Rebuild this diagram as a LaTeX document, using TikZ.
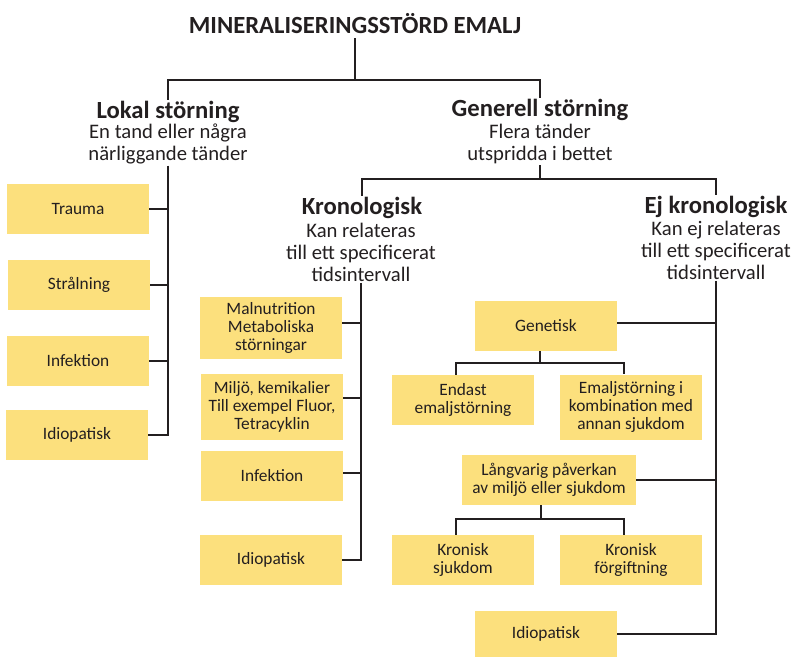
\documentclass[tikz,border=0pt]{standalone}
\usepackage{fontspec}
\setmainfont{Carlito}
\usepackage{xcolor}
\usetikzlibrary{calc}
\definecolor{boxyellow}{RGB}{252,224,125}
\definecolor{inkdark}{RGB}{35,31,32}

\begin{document}
\begin{tikzpicture}[x=0.75pt,y=-0.75pt,
		cause/.style={fill=boxyellow,text=inkdark,font=\fontsize{13}{13.5}\selectfont,
			align=center,minimum width=106.5pt,minimum height=37.5pt,inner sep=1pt},
		head/.style={text=inkdark,font=\bfseries\fontsize{18.5}{20}\selectfont,inner sep=1pt},
		note/.style={text=inkdark,font=\fontsize{15.5}{16.5}\selectfont,align=center,inner sep=1pt},
		link/.style={inkdark,line width=1.6pt}]
	\useasboundingbox (0,0) rectangle (793,657);
	\node[head,inner sep=3pt] (title) at (355,24) {MINERALISERINGSSTÖRD EMALJ};
	
	% First level: local and general disturbance.
	\node[head] (lokal) at (168,112) {Lokal störning};
	\node[note] (lokaltxt) at (168,144) {En tand eller några\\närliggande tänder};
	\node[head] (gen) at (540,110) {Generell störning};
	\node[note] (gentxt) at (540,144) {Flera tänder\\utspridda i bettet};
	\node[head] (kron) at (362,208) {Kronologisk};
	\node[note] (krontxt) at (361,252) {Kan relateras\\till ett specificerat\\tidsintervall};
	\node[head] (ejkron) at (716,207) {Ej kronologisk};
	\node[note] (ejtxt) at (716,250) {Kan ej relateras\\till ett specificerat\\tidsintervall};
	
	% Causes of local disturbance.
	\node[cause] (trauma) at (78,209) {Trauma};
	\node[cause] (straln) at (79,285) {Strålning};
	\node[cause] (infek) at (78,361) {Infektion};
	\node[cause] (idiol) at (77,435) {Idiopatisk};
	
	% Chronological causes.
	\node[cause,minimum height=47pt] (malnut) at (271,328) {Malnutrition\\Metaboliska\\störningar};
	\node[cause,minimum height=49.5pt] (miljo) at (272,407) {Miljö, kemikalier\\Till exempel Fluor,\\Tetracyklin};
	\node[cause] (infekk) at (272,476) {Infektion};
	\node[cause] (idiok) at (271,560) {Idiopatisk};
	
	% Non-chronological causes.
	\node[cause] (genet) at (546,326) {Genetisk};
	\node[cause] (endast) at (463,400) {Endast\\emaljstörning};
	\node[cause,minimum height=48.75pt] (emalj) at (631,407) {Emaljstörning i\\kombination med\\annan sjukdom};
	\node[cause,minimum width=130.5pt] (lang) at (549,480) {Långvarig påverkan\\av miljö eller sjukdom};
	\node[cause] (kronsj) at (463,560) {Kronisk\\sjukdom};
	\node[cause] (kronfo) at (631,560) {Kronisk\\förgiftning};
	\node[cause,minimum height=34.5pt] (idioe) at (546,634) {Idiopatisk};
	
	% Tree lines.
	\coordinate (tsplit) at (354,80);
	\coordinate (gsplit) at (540,179);
	\coordinate (gensplit) at (540,363);
	\coordinate (langsplit) at (541,519);
	\draw[link] (title.south) -- (title.south |- tsplit);
	\draw[link] (lokal.north) |- (tsplit) -| (gen.north);
	\draw[link] (gentxt.south) -- (gsplit);
	\draw[link] (kron.north) |- (gsplit) -| (ejkron.north);
	
	\draw[link] (lokaltxt.south) |- (idiol.east);
	\foreach \b in {trauma,straln,infek}
	\draw[link] (\b.east) -- (\b.east -| lokaltxt.south);
	
	\draw[link] (krontxt.south) |- (idiok.east);
	\foreach \b/\d in {malnut/-5,miljo/-9,infekk/-3}
	\draw[link] ($(\b.east)+(0,\d)$) -- ($(\b.east -| krontxt.south)+(0,\d)$);
	
	\draw[link] (ejtxt.south) |- (idioe.east);
	\foreach \b/\d in {genet/-3,lang/0}
	\draw[link] ($(\b.east)+(0,\d)$) -- ($(\b.east -| ejtxt.south)+(0,\d)$);
	
	\draw[link] (genet.south -| gensplit) -- (gensplit);
	\draw[link] ([xshift=-5pt]endast.north) |- (gensplit) -| ([xshift=-5pt]emalj.north);
	\draw[link] (lang.south -| langsplit) -- (langsplit);
	\draw[link] ([xshift=-5pt]kronsj.north) |- (langsplit) -| ([xshift=-5pt]kronfo.north);
\end{tikzpicture}
\end{document}
